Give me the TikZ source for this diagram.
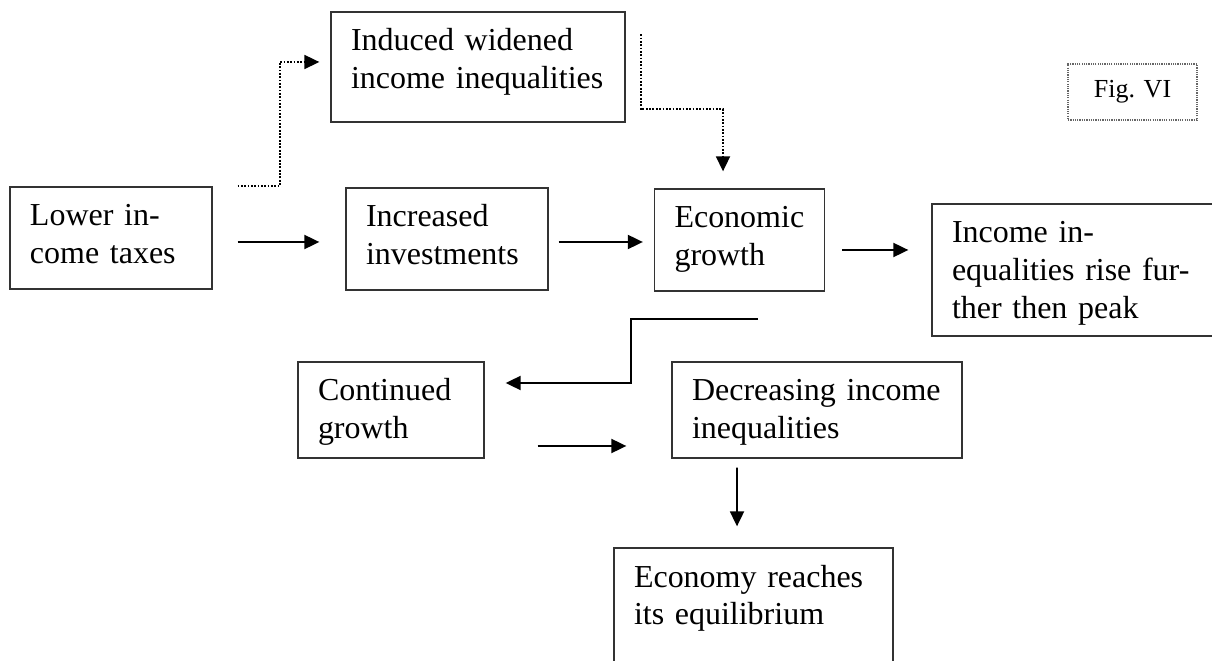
\documentclass[tikz,border=0pt]{standalone}
\usepackage{fontspec}
\setmainfont{Liberation Serif}
\usetikzlibrary{arrows.meta}
\tikzstyle{block} = [draw=black!80, line width=0.75pt, rectangle,
inner xsep=4mm, inner ysep=0pt, text height=7.8mm, align=left,
font=\fontsize{18.2}{21.6}\selectfont]
\tikzstyle{figbox} = [draw=black!60, line width=0.7pt, dash pattern=on 0.7pt off 0.6pt,
rectangle, inner sep=0pt, minimum width=25.8mm, minimum height=11.2mm,
font=\fontsize{14.8}{17}\selectfont]
\tikzstyle{flow} = [->, line width=1.1pt]
\tikzstyle{dotflow} = [->, line width=1pt, dash pattern=on 1pt off 0.9pt]

\begin{document}
\begin{tikzpicture}[x=0.2mm, y=-0.2mm, node distance=60mm, >={Triangle[length=3mm, width=2.8mm]}]
    \useasboundingbox (0,0) rectangle (1212,661);
    \clip (0,0) rectangle (1212,661);
    % the boxes of the chain
    \node [block, text width=32.4mm, text depth=12.6mm] (lower) at (111,238) {Lower in-\\come taxes};
    \node [block, right of=lower, xshift=7.2mm, yshift=-0.2mm, text width=32.4mm, text depth=12.6mm] (increased) {Increased\\investments};
    \node [block, right of=increased, xshift=-1.5mm, yshift=-0.2mm, text width=26mm, text depth=12.6mm] (econ) {Economic\\growth};
    \node [block, right of=econ, xshift=8.3mm, yshift=-6mm, text width=51.6mm, text depth=18.6mm] (income) {Income in-\\equalities rise fur-\\ther then peak};
    \node [block, above of=increased, node distance=34.4mm, xshift=6.2mm, text width=50.8mm, text depth=14.2mm] (induced) {Induced widened\\\mbox{income inequalities}};
    \node [block, below of=increased, node distance=34.2mm, xshift=-11.2mm, text width=29.2mm, text depth=11.4mm] (continued) {Continued\\growth};
    \node [block, below of=econ, node distance=34mm, xshift=15.5mm, text width=50mm, text depth=11.4mm] (decreasing) {Decreasing income\\inequalities};
    \node [block, below of=decreasing, node distance=40.8mm, xshift=-12.7mm, text width=47.8mm, text depth=18.6mm] (economy) {Economy reaches\\its equilibrium};
    \node [figbox, above of=income, node distance=35.6mm, xshift=10.3mm] (figvi) {Fig. VI};

    % the arrows between them
    \draw [flow] ([shift={(25,4)}]lower.east) -- ([shift={(-26,3)}]increased.west);
    \draw [flow] ([shift={(10,3)}]increased.east) -- ([shift={(-11,2)}]econ.west);
    \draw [flow] ([shift={(17,10)}]econ.east) -- ([shift={(-23,-20)}]income.west);
    \draw [dotflow] ([xshift=5mm]lower.north east) -- ++(42,0) |- ([shift={(-11,-5)}]induced.west);
    \draw [dotflow] ([shift={(15,23)}]induced.north east) -- ++(0,75) -| ([shift={(-16.5,-17)}]econ.north);
    \draw [flow] ([shift={(18.5,27)}]econ.south) -- ++(-127,0) |- ([shift={(21,-27)}]continued.east);
    \draw [flow] ([shift={(53,36)}]continued.east) -- ([shift={(-45,36)}]decreasing.west);
    \draw [flow] ([shift={(-80,9)}]decreasing.south) -- ([shift={(-16.5,-21)}]economy.north);
\end{tikzpicture}
\end{document}
